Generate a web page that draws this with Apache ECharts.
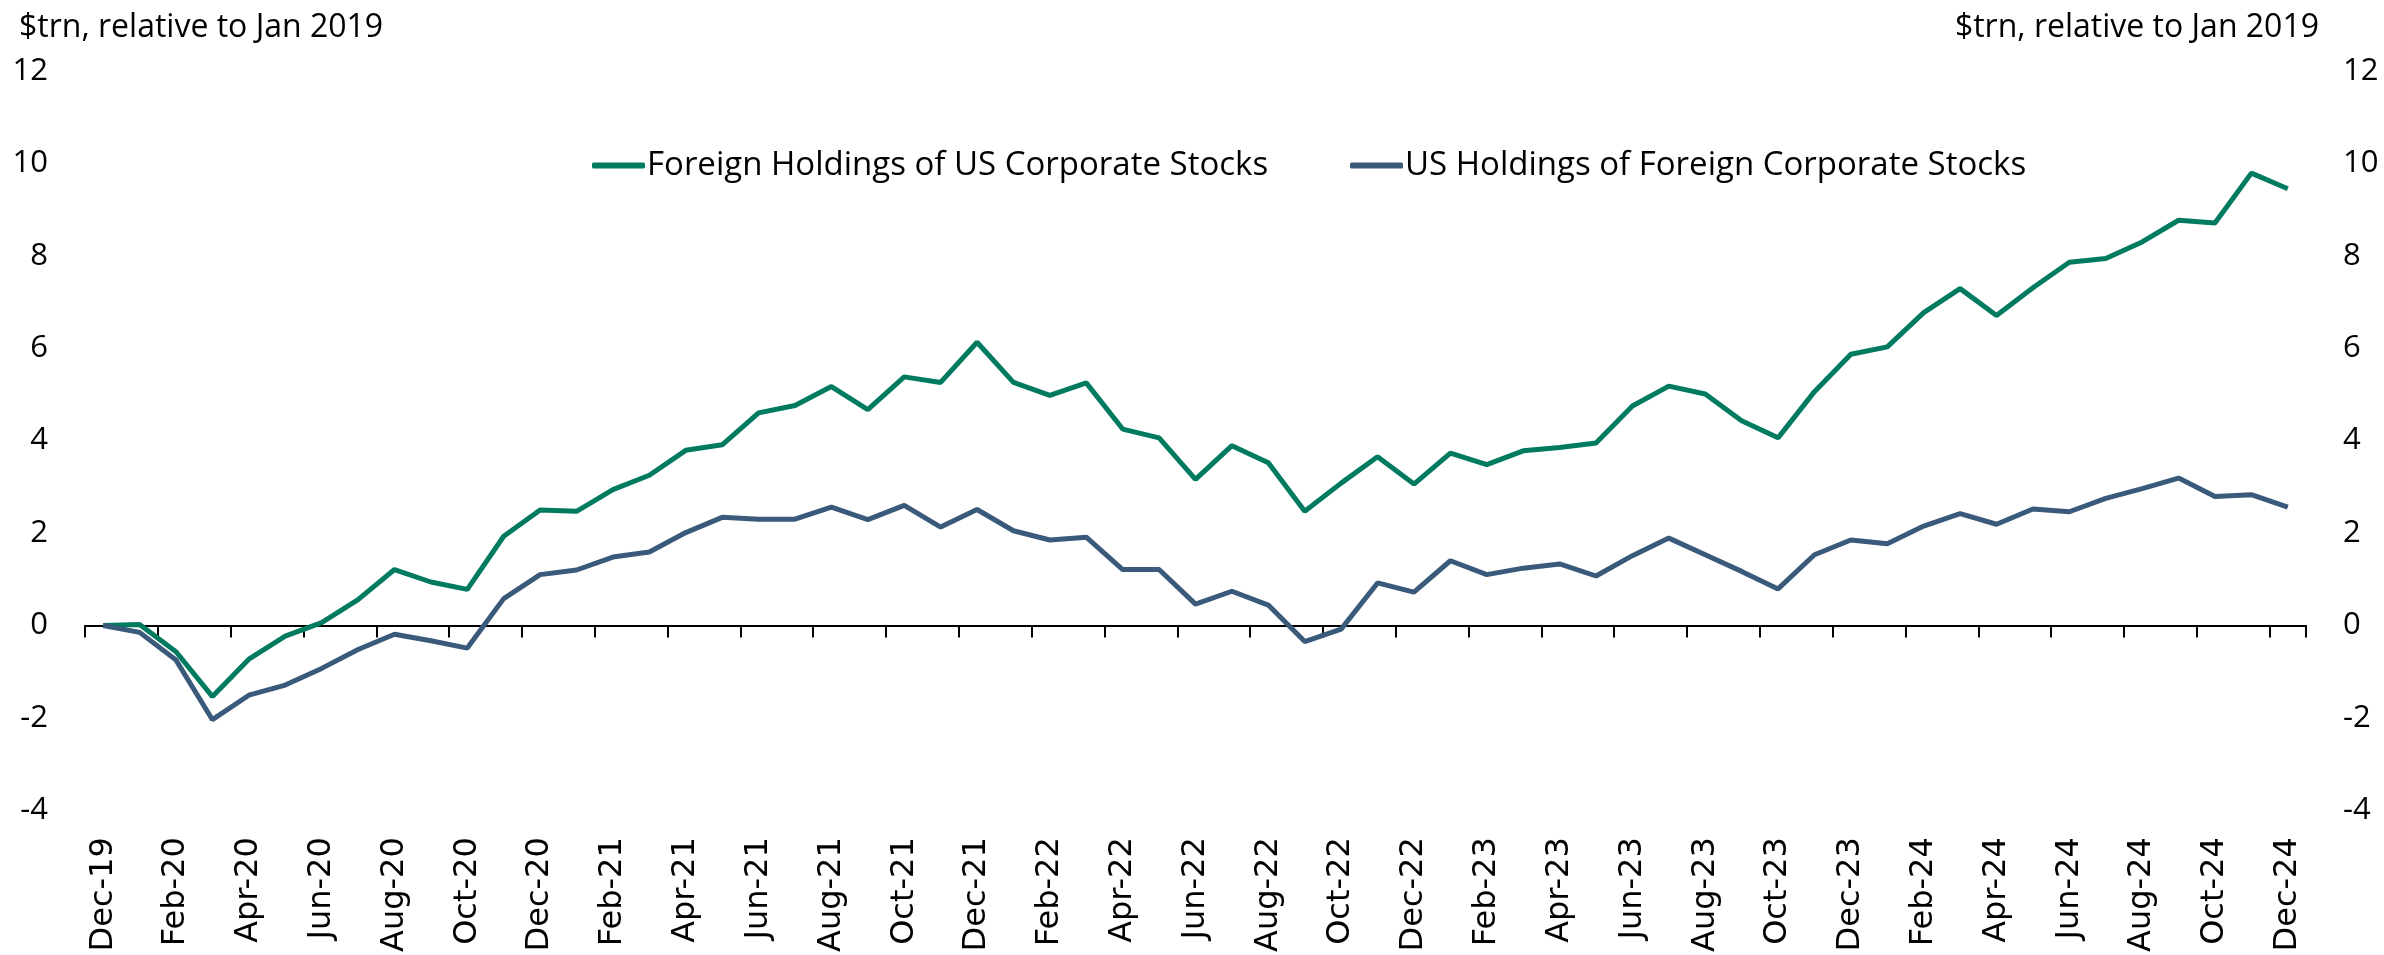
<!DOCTYPE html>
<html>
<head>
<meta charset="utf-8">
<script src="https://cdn.jsdelivr.net/npm/echarts@6/dist/echarts.min.js"></script>
<style>
html,body{margin:0;padding:0;background:#fff;}
#chart{width:2384px;height:955px;}
</style>
</head>
<body>
<div id="chart"></div>
<script>
const categories = ["Dec-19","Jan-20","Feb-20","Mar-20","Apr-20","May-20","Jun-20","Jul-20","Aug-20","Sep-20","Oct-20","Nov-20",
"Dec-20","Jan-21","Feb-21","Mar-21","Apr-21","May-21","Jun-21","Jul-21","Aug-21","Sep-21","Oct-21","Nov-21",
"Dec-21","Jan-22","Feb-22","Mar-22","Apr-22","May-22","Jun-22","Jul-22","Aug-22","Sep-22","Oct-22","Nov-22",
"Dec-22","Jan-23","Feb-23","Mar-23","Apr-23","May-23","Jun-23","Jul-23","Aug-23","Sep-23","Oct-23","Nov-23",
"Dec-23","Jan-24","Feb-24","Mar-24","Apr-24","May-24","Jun-24","Jul-24","Aug-24","Sep-24","Oct-24","Nov-24","Dec-24"];

const foreignHoldingsUS = [0.00, 0.02, -0.57, -1.54, -0.73, -0.23, 0.06, 0.56, 1.21, 0.94,
  0.78, 1.93, 2.50, 2.47, 2.94, 3.25, 3.79, 3.91, 4.60, 4.76,
  5.17, 4.67, 5.38, 5.26, 6.13, 5.26, 4.98, 5.25, 4.25, 4.06,
  3.16, 3.89, 3.52, 2.47, 3.08, 3.65, 3.06, 3.73, 3.48, 3.78,
  3.85, 3.95, 4.75, 5.18, 5.01, 4.43, 4.06, 5.06, 5.87, 6.03,
  6.77, 7.29, 6.71, 7.31, 7.86, 7.94, 8.30, 8.77, 8.71, 9.79, 9.45];

const usHoldingsForeign = [0.00, -0.15, -0.75, -2.04, -1.51, -1.29, -0.93, -0.52, -0.19, -0.33,
  -0.49, 0.58, 1.10, 1.20, 1.48, 1.59, 2.01, 2.34, 2.30, 2.30,
  2.56, 2.29, 2.60, 2.13, 2.51, 2.05, 1.85, 1.91, 1.21, 1.21,
  0.46, 0.74, 0.44, -0.35, -0.08, 0.92, 0.72, 1.40, 1.10, 1.24,
  1.33, 1.07, 1.51, 1.89, 1.53, 1.17, 0.79, 1.53, 1.85, 1.77,
  2.15, 2.42, 2.19, 2.52, 2.46, 2.75, 2.96, 3.19, 2.79, 2.83, 2.56];

const seriesNames = ["Foreign Holdings of US Corporate Stocks", "US Holdings of Foreign Corporate Stocks"];
const unitLabel = "$trn, relative to Jan 2019";
const yMin = -4, yMax = 12, yStep = 2;

const GREEN = "#007B5F";
const BLUE = "#3A5A7B";
const FONT = "Open Sans";

const chart = echarts.init(document.getElementById('chart'));
const yLabel = {show:true, fontFamily:FONT, fontSize:31, color:'#000', margin:37};
chart.setOption({
  animation:false,
  backgroundColor:'#fff',
  title:[
    {text:unitLabel, left:14, top:7, textStyle:{fontFamily:FONT, fontSize:32, fontWeight:'normal', color:'#000'}},
    {text:unitLabel, right:60, top:7, textStyle:{fontFamily:FONT, fontSize:32, fontWeight:'normal', color:'#000'}}
  ],
  legend:[
    {data:[seriesNames[0]], left:587, top:144, icon:'roundRect', itemWidth:53, itemHeight:6,
     textStyle:{fontFamily:FONT, fontSize:33, color:'#000', padding:[0,0,0,-3]}},
    {data:[seriesNames[1]], left:1345, top:144, icon:'roundRect', itemWidth:53, itemHeight:6,
     textStyle:{fontFamily:FONT, fontSize:33, color:'#000', padding:[0,0,0,-3]}}
  ],
  grid:{left:85, right:78, top:71, bottom:140, containLabel:false},
  xAxis:[
    {type:'category', data:categories, boundaryGap:true, position:'bottom',
     axisLine:{show:true, onZero:true, lineStyle:{color:'#000', width:2}},
     axisTick:{show:true, interval:1, length:12, lineStyle:{color:'#000', width:2}},
     axisLabel:{show:false}, splitLine:{show:false}},
    {type:'category', data:categories, boundaryGap:true, position:'bottom',
     axisLine:{show:false, onZero:false}, axisTick:{show:false},
     axisLabel:{show:true, interval:1, rotate:90, margin:27, fontFamily:'DejaVu Sans', fontSize:32, color:'#000'},
     splitLine:{show:false}}
  ],
  yAxis:[
    {type:'value', min:yMin, max:yMax, interval:yStep, position:'left',
     axisLine:{show:false}, axisTick:{show:false}, splitLine:{show:false}, axisLabel:yLabel},
    {type:'value', min:yMin, max:yMax, interval:yStep, position:'right',
     axisLine:{show:false}, axisTick:{show:false}, splitLine:{show:false}, axisLabel:yLabel}
  ],
  series:[
    {name:seriesNames[0], type:'line', data:foreignHoldingsUS, xAxisIndex:0, yAxisIndex:0,
     symbol:'none', lineStyle:{color:GREEN, width:5}, itemStyle:{color:GREEN}},
    {name:seriesNames[1], type:'line', data:usHoldingsForeign, xAxisIndex:0, yAxisIndex:0,
     symbol:'none', lineStyle:{color:BLUE, width:5}, itemStyle:{color:BLUE}}
  ]
});
</script>
</body>
</html>
